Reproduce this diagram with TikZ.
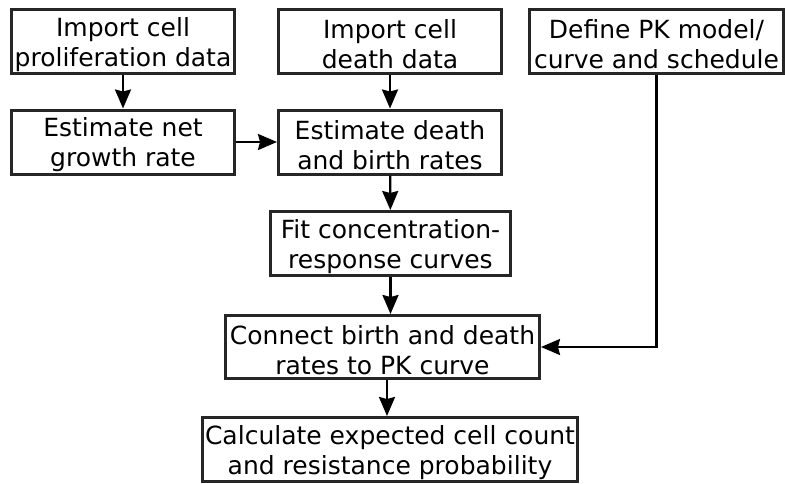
\documentclass[tikz,border=0pt]{standalone}
\usepackage{fontspec}
\setmainfont{DejaVu Sans}
\usetikzlibrary{arrows.meta}
\newcommand{\topstrut}{\rule{0pt}{25pt}}
\begin{document}
\begin{tikzpicture}[x=1pt,y=-1pt,
  box/.style={draw=black!85, line width=3pt, inner sep=0pt, align=center,
    font=\fontsize{25}{30}\selectfont},
  arr/.style={line width=2.3pt, -{Stealth[length=19pt,width=16pt,inset=2pt]}}]
\useasboundingbox (0,0) rectangle (785,483);
\node[box, minimum width=223pt, minimum height=64pt] (A) at (123,41.5) {\topstrut Import cell\\proliferation data};
\node[box, minimum width=223pt, minimum height=64pt] (B) at (123,142) {\topstrut Estimate net\\growth rate};
\node[box, minimum width=223pt, minimum height=64pt] (C) at (390,41.5) {\topstrut Import cell\\death data};
\node[box, minimum width=223pt, minimum height=64pt] (D) at (390,142) {\topstrut Estimate death\\and birth rates};
\node[box, minimum width=254pt, minimum height=64pt] (E) at (656.5,41.5) {\topstrut Define PK model/\\curve and schedule};
\node[box, minimum width=240pt, minimum height=64pt] (F) at (390.5,243.5) {\topstrut Fit concentration-\\response curves};
\node[box, minimum width=314pt, minimum height=63pt] (G) at (382.5,347) {\topstrut Connect birth and death\\rates to PK curve};
\node[box, minimum width=375pt, minimum height=64pt] (H) at (390,449.5) {\topstrut Calculate expected cell count\\and resistance probability};
\draw[arr] (A) -- (B);
\draw[arr] (C) -- (D);
\draw[arr] (B) -- (D);
\draw[arr] (D) -- (F);
\draw[arr] (F.south) -- (F.south |- G.north);
\draw[arr] (G.south -| 387,0) -- (387,0 |- H.north);
\draw[arr] (E.south) |- (G.east);
\end{tikzpicture}
\end{document}
